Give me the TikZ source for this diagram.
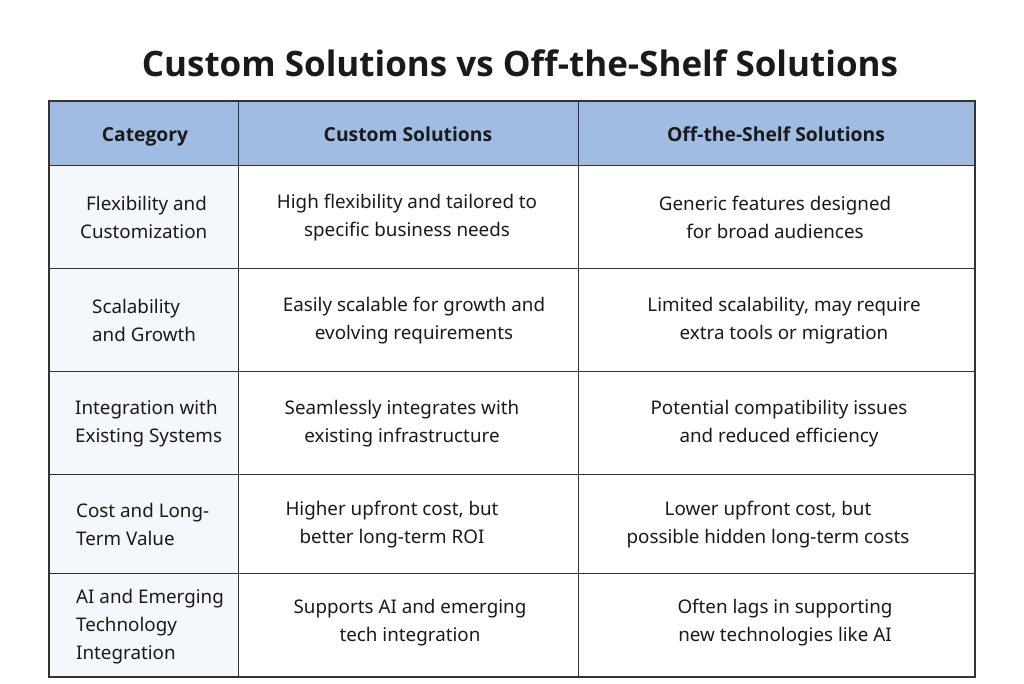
\documentclass[tikz,border=0pt]{standalone}
\usepackage{fontspec}
\setmainfont{Noto Sans}
\newfontfamily\boldfnt{Open Sans}
\definecolor{hdr}{HTML}{A0BCE2}
\definecolor{catbg}{HTML}{F4F7FB}
\definecolor{grid}{HTML}{333333}
\definecolor{txt}{HTML}{1A1A1A}
\begin{document}
\begin{tikzpicture}[x=1pt,y=-1pt,
  cell/.style={font=\fontsize{18.8}{28}\selectfont,text=txt,align=center,inner sep=0pt},
  catcell/.style={font=\fontsize{18.8}{28}\selectfont,text=txt,align=left,inner sep=0pt,anchor=west},
  head/.style={font=\fontsize{19.3}{22}\selectfont\boldfnt\bfseries,text=txt,inner sep=0pt,anchor=base}]
\useasboundingbox (0,0) rectangle (1024,683);
\fill[white] (0,0) rectangle (1024,683);
\node[font=\fontsize{35}{40}\selectfont\boldfnt\bfseries,text=txt] (title) at (520,63) {Custom Solutions vs Off-the-Shelf Solutions};
\fill[hdr] (49,101) rectangle (975,165);
\fill[catbg] (49,165) rectangle (238,677);
\draw[grid,line width=1.2pt] (49,101) rectangle (975,677);
\draw[grid,line width=1pt] (238,101) -- (238,677) (578,101) -- (578,677)
  (49,165) -- (975,165) (49,268) -- (975,268) (49,371) -- (975,371) (49,474) -- (975,474) (49,573) -- (975,573);
\node[head] (h1) at (145,141) {Category};
\node[head] (h2) at (408,141) {Custom Solutions};
\node[head] (h3) at (776,141) {Off-the-Shelf Solutions};
% row 1
\node[catcell] (c1) at (80,217.5) {\hspace*{6pt}Flexibility and\\Customization};
\node[cell] (a1) at (407,217.5) {High flexibility and tailored to\\specific business needs};
\node[cell] (b1) at (775,217.5) {Generic features designed\\for broad audiences};
% row 2
\node[catcell] (c2) at (92,320.5) {Scalability\\and Growth};
\node[cell] (a2) at (414,320.5) {Easily scalable for growth and\\evolving requirements};
\node[cell] (b2) at (784,320.5) {Limited scalability, may require\\extra tools or migration};
% row 3
\node[catcell] (c3) at (75,423.5) {Integration with\\Existing Systems};
\node[cell] (a3) at (402,423.5) {Seamlessly integrates with\\existing infrastructure};
\node[cell] (b3) at (779,423.5) {Potential compatibility issues\\and reduced efficiency};
% row 4
\node[catcell] (c4) at (76,524.5) {Cost and Long-\\Term Value};
\node[cell] (a4) at (392,524.5) {Higher upfront cost, but\\better long-term ROI};
\node[cell] (b4) at (768,524.5) {Lower upfront cost, but\\possible hidden long-term costs};
% row 5
\node[catcell] (c5) at (76,626.5) {AI and Emerging\\Technology\\Integration};
\node[cell] (a5) at (410,622.5) {Supports AI and emerging\\tech integration};
\node[cell] (b5) at (785,622.5) {Often lags in supporting\\new technologies like AI};
\end{tikzpicture}
\end{document}
